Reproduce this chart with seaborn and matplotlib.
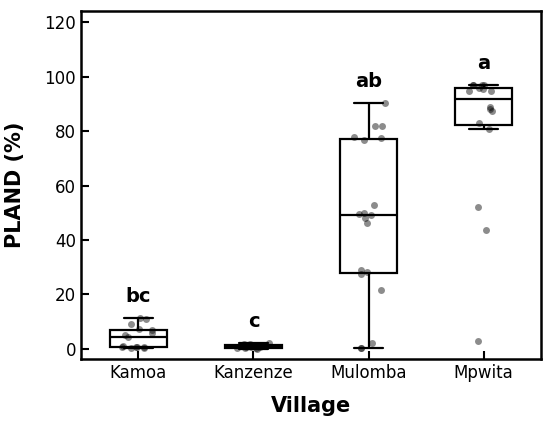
import numpy as np
import pandas as pd
import matplotlib
matplotlib.use("Agg")
import matplotlib.pyplot as plt
import seaborn as sns

villages = ["Kamoa", "Kanzenze", "Mulomba", "Mpwita"]
kamoa = [11.4, 11.0, 9.0, 7.2, 6.8, 5.8, 5.1, 4.3, 1.0, 0.8, 0.7, 0.6, 0.5, 0.4, 0.3]
kanzenze = [0.1, 0.2, 0.3, 0.4, 0.5, 0.7, 0.8, 1.0, 1.1, 1.2, 1.4, 1.5, 1.7, 1.9, 2.2]
mulomba = [90.4, 81.9, 81.9, 77.7, 76.7, 78.0, 52.8, 49.2, 49.8, 49.5, 48.0, 46.3,
           29.0, 27.4, 28.2, 21.5, 2.0, 0.2, 0.2]
mpwita = [97.0, 97.0, 97.1, 96.9, 94.8, 95.6, 95.8, 94.7, 87.6, 89.1, 88.2, 82.9,
          80.9, 52.3, 43.7, 2.7]
letters = ["bc", "c", "ab", "a"]

values = [kamoa, kanzenze, mulomba, mpwita]
df = pd.DataFrame({
    "Village": np.concatenate([[v] * len(d) for v, d in zip(villages, values)]),
    "PLAND": np.concatenate(values),
})

sns.set_style("ticks")
plt.rcParams["font.family"] = ["DejaVu Sans"]
plt.rcParams.update({
    "text.color": "black", "axes.labelcolor": "black", "axes.edgecolor": "black",
    "xtick.color": "black", "ytick.color": "black",
})

fig, ax = plt.subplots(figsize=(5.5, 4.26), dpi=100)
fig.subplots_adjust(left=0.147, right=0.984, top=0.974, bottom=0.157)

sns.boxplot(data=df, x="Village", y="PLAND", order=villages, color="white",
            linecolor="black", linewidth=1.6, width=0.5, showfliers=False, ax=ax)
np.random.seed(3)
sns.stripplot(data=df, x="Village", y="PLAND", order=villages, color="black",
              alpha=0.45, size=5, jitter=0.15, linewidth=0, ax=ax)

for i, (lab, d) in enumerate(zip(letters, values)):
    ax.text(i, max(d) + 4.5, lab, ha="center", va="bottom", fontsize=14,
            fontweight="bold", color="black")

ax.set_xlim(-0.5, 3.5)
ax.set_ylim(-3.8, 124.2)
ax.set_yticks([0, 20, 40, 60, 80, 100, 120])
ax.set_xlabel("Village", fontsize=15, fontweight="bold", labelpad=10)
ax.set_ylabel("PLAND (%)", fontsize=15, fontweight="bold", labelpad=14)
ax.tick_params(direction="in", length=6, width=1.5, labelsize=12, colors="black")
for s in ax.spines.values():
    s.set_linewidth(1.8)
    s.set_color("black")
    s.set_visible(True)

fig.savefig("out.png", dpi=100)
